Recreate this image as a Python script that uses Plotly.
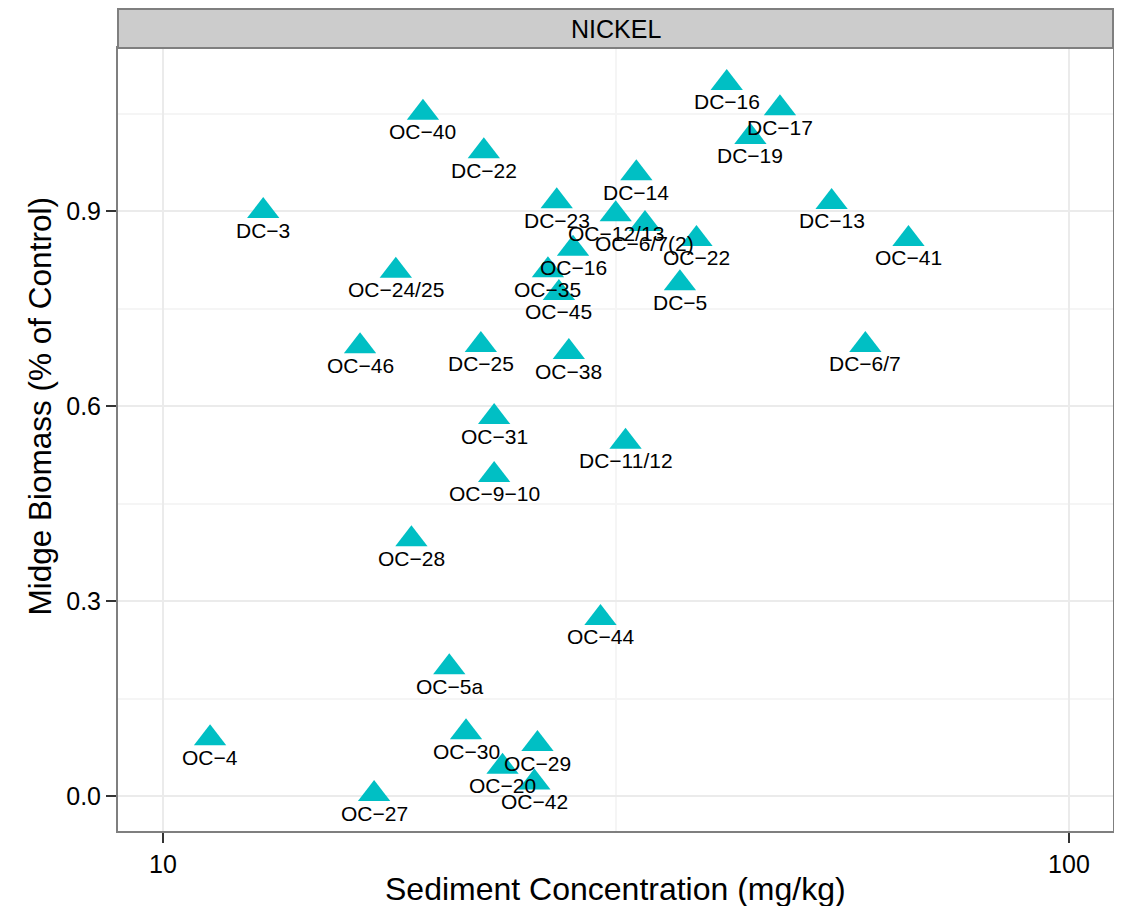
import numpy as np
import plotly.graph_objects as go

# ---- data ----
sites = ["DC\u22123", "OC\u22124", "OC\u221240", "DC\u221222", "OC\u221224/25", "OC\u221246",
         "DC\u221225", "OC\u221231", "OC\u22129\u221210", "OC\u221228", "OC\u22125a", "OC\u221230",
         "OC\u221220", "OC\u221229", "OC\u221242", "OC\u221227", "OC\u221244", "DC\u221211/12",
         "OC\u221238", "OC\u221245", "OC\u221235", "OC\u221216", "DC\u221223", "OC\u221212/13",
         "OC\u22126/7(2)", "DC\u221214", "OC\u221222", "DC\u22125", "DC\u221216", "DC\u221217",
         "DC\u221219", "DC\u221213", "OC\u221241", "DC\u22126/7"]
concentration = [12.9, 11.27, 19.36, 22.6, 18.07, 16.5,
                 22.43, 23.2, 23.2, 18.8, 20.7, 21.6,
                 23.7, 25.9, 25.7, 17.1, 30.4, 32.4,
                 28.05, 27.35, 26.6, 28.35, 27.2, 31.6,
                 34.04, 33.3, 38.8, 37.2, 41.9, 47.97,
                 44.5, 54.7, 66.5, 59.6]
biomass = [0.90, 0.089, 1.051, 0.992, 0.808, 0.692,
           0.694, 0.583, 0.494, 0.395, 0.198, 0.098,
           0.045, 0.080, 0.021, 0.003, 0.274, 0.545,
           0.683, 0.774, 0.809, 0.842, 0.915, 0.895,
           0.880, 0.958, 0.857, 0.789, 1.097, 1.058,
           1.014, 0.914, 0.857, 0.694]
facet_label = "NICKEL"
x_ticks = [10, 100]
x_ticktext = ["10", "100"]
y_ticks = [0.0, 0.3, 0.6, 0.9]
y_ticktext = ["0.0", "0.3", "0.6", "0.9"]
x_title = "Sediment Concentration (mg/kg)"
y_title = "Midge Biomass (% of Control)"

FONT = "Liberation Sans, Arial, Helvetica, sans-serif"
# page body has an 8px default margin; size the figure to fit inside the window
OFF = 8
W, H = 1122 - 2 * OFF, 914 - 2 * OFF
L, T = 118 - OFF, 48 - OFF
R = W - (1113 - OFF)
B = H - (831 - OFF)
plot_h = H - T - B

fig = go.Figure()
fig.add_trace(go.Scatter(
    x=concentration, y=biomass, mode="markers",
    marker=dict(symbol="triangle-up", size=28, color="#00BFC4", line=dict(width=0)),
    hoverinfo="text", text=sites, showlegend=False,
))

annotations = []
for s, cx, by in zip(sites, concentration, biomass):
    annotations.append(dict(
        x=np.log10(cx), y=by, xref="x", yref="y", text=s, showarrow=False,
        xanchor="center", yanchor="middle", yshift=-19,
        font=dict(family=FONT, size=21, color="black"),
    ))

# facet strip label
strip_top = 1 + 39 / plot_h
annotations.append(dict(
    x=0.5, y=(1 + strip_top) / 2, xref="paper", yref="paper", text=facet_label,
    showarrow=False, xanchor="center", yanchor="middle",
    font=dict(family=FONT, size=25, color="black"),
))
# axis titles
annotations.append(dict(
    x=0.5, y=0, xref="paper", yref="paper", text=x_title, showarrow=False,
    xanchor="center", yanchor="middle", yshift=-58,
    font=dict(family=FONT, size=32, color="black"),
))
annotations.append(dict(
    x=0, y=0.5, xref="paper", yref="paper", text=y_title, showarrow=False,
    xanchor="center", yanchor="middle", xshift=-79, yshift=33, textangle=-90,
    font=dict(family=FONT, size=31.5, color="black"),
))

shapes = [dict(
    type="rect", xref="paper", yref="paper", x0=0, x1=1, y0=1, y1=strip_top,
    fillcolor="#CCCCCC", line=dict(color="#7F7F7F", width=2), layer="above",
)]

fig.update_layout(
    width=W, height=H,
    margin=dict(l=L, r=R, t=T, b=B, autoexpand=False),
    paper_bgcolor="white", plot_bgcolor="white",
    annotations=annotations, shapes=shapes,
    font=dict(family=FONT, color="black"),
)
fig.update_xaxes(
    type="log", range=[0.9503, 2.0486],
    tickvals=x_ticks, ticktext=x_ticktext,
    tickfont=dict(family=FONT, size=25, color="black"),
    ticks="outside", ticklen=10, tickwidth=2, tickcolor="#333333",
    showgrid=True, gridcolor="#EBEBEB", gridwidth=1.5,
    minor=dict(tickvals=[10 ** 1.5], showgrid=True, gridcolor="#F5F5F5", gridwidth=1.5, ticks=""),
    showline=True, linecolor="#7F7F7F", linewidth=2, mirror=True,
    zeroline=False,
)
fig.update_yaxes(
    range=[-0.0538, 1.1508],
    tickvals=y_ticks, ticktext=y_ticktext,
    tickfont=dict(family=FONT, size=25, color="black"),
    ticks="outside", ticklen=10, tickwidth=2, tickcolor="#333333",
    showgrid=True, gridcolor="#EBEBEB", gridwidth=1.5,
    minor=dict(tickvals=[0.15, 0.45, 0.75, 1.05], showgrid=True, gridcolor="#F5F5F5", gridwidth=1.5, ticks=""),
    showline=True, linecolor="#7F7F7F", linewidth=2, mirror=True,
    zeroline=False,
)

fig.write_html("out.html")
